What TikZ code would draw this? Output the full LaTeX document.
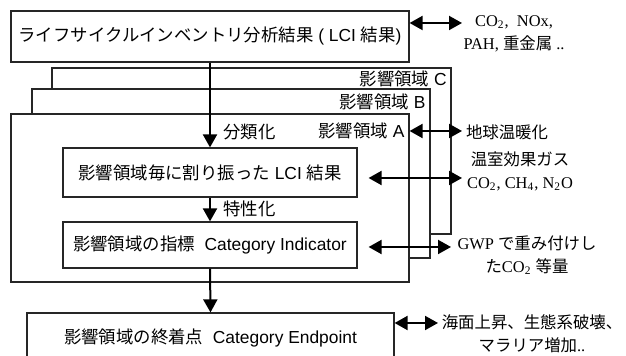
\documentclass[tikz,border=0pt]{standalone}
\usepackage{fontspec}
\setmainfont{Liberation Sans}
\newfontfamily\jp{Noto Sans CJK JP}
\newfontfamily\rmlat{Liberation Serif}
\usetikzlibrary{arrows.meta}
\begin{document}
\begin{tikzpicture}[x=0.5pt,y=-0.5pt,
  box/.style={draw=black!85, line width=0.6pt, fill=white, inner sep=0pt,
    font=\fontsize{8.7}{10}\selectfont},
  arr/.style={line width=1pt, -{Triangle[length=6.5pt,width=7pt]}},
  darr/.style={line width=1pt, {Triangle[length=6.5pt,width=7pt]}-{Triangle[length=6.5pt,width=7pt]}},
  lab/.style={font=\fontsize{8.2}{11.5}\selectfont\rmlat, inner sep=0pt, align=center},
  tag/.style={font=\fontsize{8.7}{10}\selectfont, inner sep=0pt}]
\useasboundingbox (0,0) rectangle (626,356);
\begin{scope}
\clip (0,0) rectangle (626,356);
\node[box, minimum width=199pt, minimum height=25.5pt] (lci) at (210,36.5)
  {{\jp ライフサイクルインベントリ分析結果} ( LCI {\jp 結果})};
\node[box, minimum width=199.5pt, minimum height=83pt] (catC) at (251.5,151) {};
\node[box, minimum width=199pt, minimum height=84.5pt] (catB) at (231,173.5) {};
\node[box, minimum width=199pt, minimum height=84pt] (catA) at (210,198) {};
\node[tag, anchor=east] (labC) at (447,79) {{\jp 影響領域} C};
\node[tag, anchor=east] (labB) at (426,102) {{\jp 影響領域} B};
\node[tag, anchor=east] (labA) at (405,131) {{\jp 影響領域} A};
\node[box, minimum width=147pt, minimum height=24.5pt] (alloc) at (210,172.5)
  {{\jp 影響領域毎に割り振った} LCI {\jp 結果}};
\node[box, minimum width=147pt, minimum height=23pt] (ind) at (210,245)
  {{\jp 影響領域の指標}\ \ Category Indicator};
\node[box, minimum width=183.5pt, minimum height=25pt] (endp) at (210.5,338)
  {{\jp 影響領域の終着点}\ \ Category Endpoint};

\draw[arr] (lci.south) -- (alloc.north);
\node[tag, anchor=west] (cls) at (223,132) {\jp 分類化};
\draw[arr] (alloc.south) -- (ind.north);
\node[tag, anchor=west] (chr) at (223,209) {\jp 特性化};
\draw[arr] (ind.south) -- (endp.north);

\node[lab] (em) at (514,34) {CO\textsubscript{2},\ \ NOx,\\PAH, {\jp 重金属} ..};
\coordinate (emT) at (462,23);
\draw[darr] ([yshift=6.75pt]lci.east) -- (emT);

\node[lab] (gw) at (507,132) {\jp 地球温暖化};
\coordinate (gwT) at (462,131);
\draw[darr] (catA.east |- gwT) -- (gwT);

\node[lab] (ghg) at (520,171.5) {{\jp 温室効果ガス}\\CO\textsubscript{2}, CH\textsubscript{4}, N\textsubscript{2}O};
\coordinate (ghgT) at (462,178);
\draw[darr] ([xshift=5.5pt]alloc.east |- ghgT) -- (ghgT);

\node[lab] (gwp) at (527,255) {GWP {\jp で重み付けし}\\{\jp た}CO\textsubscript{2} {\jp 等量}};
\coordinate (gwpT) at (451,247);
\draw[darr] ([xshift=5.5pt]ind.east |- gwpT) -- (gwpT);

\node[lab] (eff) at (532,334) {{\jp 海面上昇、生態系破壊、}\\{\jp マラリア増加}..};
\coordinate (effT) at (438,323);
\draw[darr] (endp.east |- effT) -- (effT);
\end{scope}
\end{tikzpicture}
\end{document}
